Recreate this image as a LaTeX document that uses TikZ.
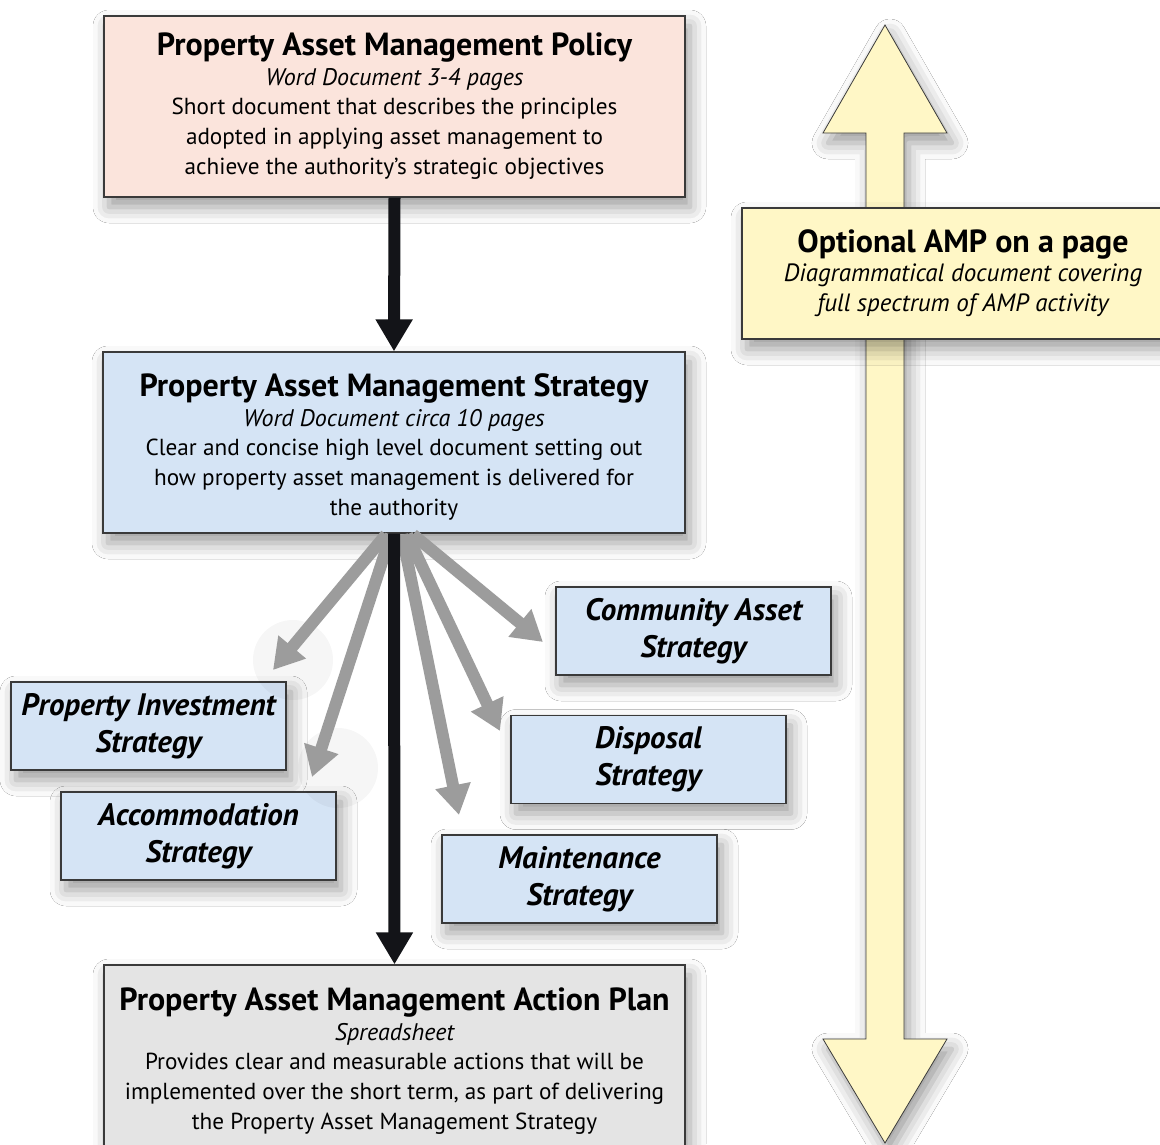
\documentclass[tikz,border=0pt]{standalone}
\usepackage{fontspec}
\setmainfont{PT Sans}
\usetikzlibrary{arrows.meta,shadows.blur}

\definecolor{policyfill}{HTML}{FBE4DC}
\definecolor{strategyfill}{HTML}{D5E4F5}
\definecolor{planfill}{HTML}{E4E4E4}
\definecolor{ampfill}{HTML}{FFF7C6}
\definecolor{darkarrow}{HTML}{131418}
\definecolor{greyarrow}{HTML}{9C9C9C}
\definecolor{boxline}{HTML}{3A3A3A}

\tikzset{
  softshadow/.style={blur shadow={shadow xshift=5pt, shadow yshift=-10pt,
      shadow blur radius=16pt, shadow opacity=40}},
  docbox/.style={draw=boxline, line width=1.2pt, softshadow, inner sep=0pt},
  subbox/.style={docbox, fill=strategyfill, align=center,
      font=\fontsize{31}{37}\selectfont\bfseries\itshape,
      minimum width=275pt, minimum height=88pt},
  titletext/.style={font=\fontsize{32}{34}\selectfont\bfseries, anchor=base, inner sep=0pt},
  subtext/.style={font=\fontsize{24}{26}\selectfont\itshape, anchor=base, inner sep=0pt},
  bodytext/.style={font=\fontsize{23.2}{26}\selectfont, anchor=base, inner sep=0pt},
  mainflow/.style={draw=darkarrow, line width=12pt,
      -{Triangle[width=35pt,length=32pt]}},
  branch/.style={draw=greyarrow, line width=12pt,
      -{Triangle[width=34pt,length=30pt]}},
  halo/.style={fill=black, opacity=0.035},
}

\begin{document}
\begin{tikzpicture}[x=1pt, y=-1pt]
\clip (0,0) rectangle (1160,1144);
\fill[white] (0,0) rectangle (1160,1144);

% double-headed yellow arrow with the AMP panel across it
\draw[draw=boxline, line width=0.8pt, fill=ampfill, softshadow]
  (885,25) -- (947,133) -- (904,133) -- (904,1039) -- (947,1039)
  -- (885,1143) -- (823,1039) -- (866,1039) -- (866,133) -- (823,133) -- cycle;
\node[docbox, fill=ampfill, minimum width=428pt, minimum height=131pt]
  (amp) at (956,273.5) {};
\node[titletext] (ampT) at (963,252) {Optional AMP on a page};
\node[subtext, font=\fontsize{25}{26}\selectfont\itshape] (ampS1) at (963,281) {Diagrammatical document covering};
\node[subtext, font=\fontsize{25}{26}\selectfont\itshape] (ampS2) at (963,311) {full spectrum of AMP activity};

% main documents
\node[docbox, fill=policyfill, minimum width=581pt, minimum height=181pt]
  (policy) at (394.5,106.5) {};
\node[titletext] (policyT) at (394.5,55) {Property Asset Management Policy};
\node[subtext] (policyS) at (394.5,85) {Word Document 3-4 pages};
\node[bodytext] (policyB1) at (394.5,114) {Short document that describes the principles};
\node[bodytext] (policyB2) at (394.5,144) {adopted in applying asset management to};
\node[bodytext] (policyB3) at (394.5,174) {achieve the authority’s strategic objectives};

\node[docbox, fill=strategyfill, minimum width=582pt, minimum height=181pt]
  (strat) at (394,442.5) {};
\node[titletext] (stratT) at (394,396) {Property Asset Management Strategy};
\node[subtext] (stratS) at (394,426) {Word Document circa 10 pages};
\node[bodytext] (stratB1) at (394,455) {Clear and concise high level document setting out};
\node[bodytext] (stratB2) at (394,485) {how property asset management is delivered for};
\node[bodytext] (stratB3) at (394,515) {the authority};

\node[docbox, fill=planfill, minimum width=581pt, minimum height=205pt]
  (plan) at (394.5,1067.5) {};
\node[titletext] (planT) at (394.5,1010) {Property Asset Management Action Plan};
\node[subtext] (planS) at (394.5,1040) {Spreadsheet};
\node[bodytext] (planB1) at (394.5,1069) {Provides clear and measurable actions that will be};
\node[bodytext] (planB2) at (394.5,1099) {implemented over the short term, as part of delivering};
\node[bodytext] (planB3) at (394.5,1129) {the Property Asset Management Strategy};

% supporting strategies
\node[subbox] (community) at (693.5,631) {Community Asset\\Strategy};
\node[subbox] (investment) at (148.5,726) {Property Investment\\Strategy};
\node[subbox] (disposal) at (648.5,759.5) {Disposal\\Strategy};
\node[subbox] (accommodation) at (198.5,836) {Accommodation\\Strategy};
\node[subbox] (maintenance) at (579.5,879) {Maintenance\\Strategy};

% faint halos around two branch heads
\fill[halo] (293,660) circle (40);
\fill[halo] (338,768) circle (40);

% branch arrow tips
\coordinate (tipInv) at (273,670);
\coordinate (tipAcc) at (312,777);
\coordinate (tipMai) at (459,815);
\coordinate (tipDis) at (500,731);
\coordinate (tipCom) at (543,642);

\draw[branch] ([xshift=-8pt, yshift=-1pt]strat.south) -- (tipInv);
\draw[branch] ([xshift=-3pt, yshift=-1pt]strat.south) -- (tipAcc);
\draw[branch] ([xshift=8pt, yshift=-1pt]strat.south) -- (tipMai);
\draw[branch] ([xshift=13pt, yshift=-1pt]strat.south) -- (tipDis);
\draw[branch] ([xshift=19pt, yshift=-1pt]strat.south) -- (tipCom);

% main flow
\draw[mainflow] (policy.south) -- (strat.north);
\draw[mainflow] (strat.south) -- (plan.north);
\end{tikzpicture}
\end{document}
